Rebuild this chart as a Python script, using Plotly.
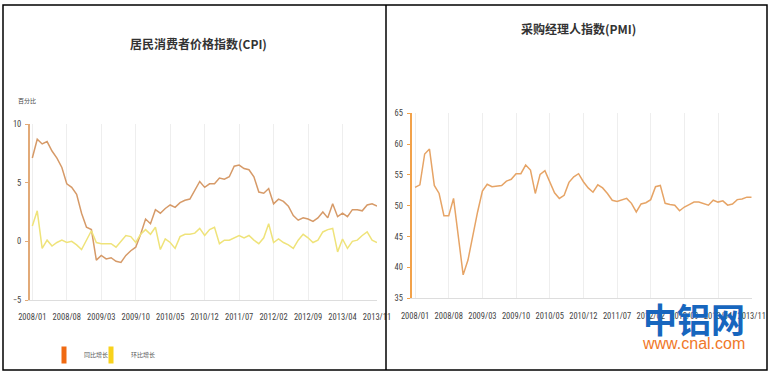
import plotly.graph_objects as go

# ---------------- data ----------------
months = [f"{y}/{m:02d}" for y in range(2008, 2014) for m in range(1, 13)][:71]
tick_labels = months[::7]

cpi_yoy = [7.1, 8.7, 8.3, 8.5, 7.7, 7.1, 6.3, 4.9, 4.6, 4.0, 2.4, 1.2,
           1.0, -1.6, -1.2, -1.5, -1.4, -1.7, -1.8, -1.2, -0.8, -0.5, 0.6, 1.9,
           1.5, 2.7, 2.4, 2.8, 3.1, 2.9, 3.3, 3.5, 3.6, 4.4, 5.1, 4.6,
           4.9, 4.9, 5.4, 5.3, 5.5, 6.4, 6.5, 6.2, 6.1, 5.5, 4.2, 4.1,
           4.5, 3.2, 3.6, 3.4, 3.0, 2.2, 1.8, 2.0, 1.9, 1.7, 2.0, 2.5,
           2.0, 3.2, 2.1, 2.4, 2.1, 2.7, 2.7, 2.6, 3.1, 3.2, 3.0]

cpi_mom = [1.3, 2.6, -0.6, 0.1, -0.4, -0.1, 0.1, -0.1, 0.0, -0.3, -0.7, 0.1,
           0.9, -0.1, -0.2, -0.2, -0.2, -0.5, 0.0, 0.5, 0.4, -0.1, 0.6, 1.0,
           0.6, 1.2, -0.7, 0.2, -0.1, -0.6, 0.4, 0.6, 0.6, 0.7, 1.1, 0.5,
           1.0, 1.2, -0.2, 0.1, 0.1, 0.3, 0.5, 0.3, 0.5, 0.1, -0.2, 0.3,
           1.5, -0.1, 0.2, -0.1, -0.3, -0.6, 0.1, 0.6, 0.3, -0.1, 0.1, 0.8,
           1.0, 1.1, -0.9, 0.2, -0.6, 0.0, 0.1, 0.5, 0.8, 0.1, -0.1]

pmi = [53.0, 53.4, 58.4, 59.2, 53.3, 52.0, 48.4, 48.4, 51.2, 44.6, 38.8, 41.2,
       45.3, 49.0, 52.4, 53.5, 53.1, 53.2, 53.3, 54.0, 54.3, 55.2, 55.2, 56.6,
       55.8, 52.0, 55.1, 55.7, 53.9, 52.1, 51.2, 51.7, 53.8, 54.7, 55.2, 53.9,
       52.9, 52.2, 53.4, 52.9, 52.0, 50.9, 50.7, 50.9, 51.2, 50.4, 49.0, 50.3,
       50.5, 51.0, 53.1, 53.3, 50.4, 50.2, 50.1, 49.2, 49.8, 50.2, 50.6, 50.6,
       50.4, 50.1, 50.9, 50.6, 50.8, 50.1, 50.3, 51.0, 51.1, 51.4, 51.4]

cpi_ticks = [-5, 0, 5, 10]
pmi_ticks = [35, 40, 45, 50, 55, 60, 65]

series_names = ["同比增长", "环比增长"]
title_cpi = "居民消费者价格指数(CPI)"
title_pmi = "采购经理人指数(PMI)"
unit_label = "百分比"

# ---------------- figure ----------------
W, H = 774, 374
px = lambda v: v / W
py = lambda v: 1 - v / H

C_YOY = "#D69A68"
C_MOM = "#EFE37A"
C_PMI = "#E6A466"
C_LEG_YOY = "#F06A12"
C_LEG_MOM = "#F8D21C"

fig = go.Figure()

fig.add_trace(go.Scatter(x=months, y=cpi_yoy, mode="lines", name=series_names[0],
                         line=dict(color=C_YOY, width=1.5), showlegend=False,
                         xaxis="x", yaxis="y"))
fig.add_trace(go.Scatter(x=months, y=cpi_mom, mode="lines", name=series_names[1],
                         line=dict(color=C_MOM, width=1.5), showlegend=False,
                         xaxis="x", yaxis="y"))
# legend entries (rectangular swatches), one legend box each
for nm, col, lg in zip(series_names, [C_LEG_YOY, C_LEG_MOM], ["legend", "legend2"]):
    fig.add_trace(go.Scatter(x=[None], y=[None], mode="markers", name=nm, legend=lg,
                             marker=dict(symbol="line-ns", size=12,
                                         line=dict(color=col, width=5)),
                             xaxis="x", yaxis="y"))
fig.add_trace(go.Scatter(x=months, y=pmi, mode="lines", name="PMI",
                         line=dict(color=C_PMI, width=1.5), showlegend=False,
                         xaxis="x2", yaxis="y2"))

tick_font = dict(family="Liberation Sans Narrow, Arial Narrow, Roboto Condensed, sans-serif",
                 size=8.5, color="#444")

xcommon = dict(type="category", tickmode="array", tickvals=tick_labels, ticktext=tick_labels,
               showgrid=True, gridcolor="#eeeeee", gridwidth=1,
               showline=True, linecolor="#dddddd", linewidth=1,
               ticks="", ticklabelstandoff=9, tickfont=tick_font, zeroline=False,
               fixedrange=True, automargin=False)

legend_common = dict(orientation="h", xanchor="left", yanchor="middle",
                     font=dict(family="Noto Sans CJK SC", size=6, color="#555"),
                     itemwidth=30, bgcolor="rgba(0,0,0,0)", borderwidth=0)

fig.update_layout(
    template="none",
    width=W, height=H, autosize=False,
    margin=dict(l=0, r=0, t=0, b=0, pad=0),
    paper_bgcolor="white", plot_bgcolor="white",
    font=dict(family="Noto Sans CJK SC", color="#444"),
    xaxis=dict(domain=[px(30), px(377)], range=[-0.47, 70], anchor="y", **xcommon),
    yaxis=dict(domain=[py(300), py(124)], range=[-5, 10], anchor="x",
               tickvals=cpi_ticks, showgrid=False, zeroline=False,
               showline=True, linecolor="#E2AA78", linewidth=2,
               ticks="outside", ticklen=3, tickcolor="#E2AA78", tickwidth=1,
               tickfont=tick_font, ticklabelstandoff=2, automargin=False, fixedrange=True),
    xaxis2=dict(domain=[px(411.7), px(751.7)], range=[-0.7, 70], anchor="y2", **xcommon),
    yaxis2=dict(domain=[py(298.3), py(113.3)], range=[35, 65], anchor="x2",
                tickvals=pmi_ticks, showgrid=False, zeroline=False,
                showline=True, linecolor="#F2A24A", linewidth=2,
                ticks="outside", ticklen=3, tickcolor="#F2A24A", tickwidth=1,
                tickfont=tick_font, ticklabelstandoff=2, automargin=False, fixedrange=True),
    legend=dict(x=px(44), y=py(355), **legend_common),
    legend2=dict(x=px(91), y=py(355), **legend_common),
    showlegend=True,
)

# titles and labels
fig.add_annotation(x=px(198), y=py(43), xref="paper", yref="paper", text="<b>" + title_cpi + "</b>",
                   xanchor="center", yanchor="middle", showarrow=False,
                   font=dict(family="Noto Sans CJK SC", size=12, color="#333"))
fig.add_annotation(x=px(578), y=py(29), xref="paper", yref="paper", text="<b>" + title_pmi + "</b>",
                   xanchor="center", yanchor="middle", showarrow=False,
                   font=dict(family="Noto Sans CJK SC", size=12, color="#333"))
fig.add_annotation(x=px(27), y=py(101), xref="paper", yref="paper", text=unit_label,
                   xanchor="center", yanchor="middle", showarrow=False,
                   font=dict(family="Noto Sans CJK SC", size=6, color="#444"))

# watermark
fig.add_annotation(x=px(694), y=py(318), xref="paper", yref="paper", text="<b>中铝网</b>",
                   xanchor="center", yanchor="middle", showarrow=False,
                   font=dict(family="Noto Sans CJK SC", size=34, color="#1766BE"))
fig.add_annotation(x=px(693), y=py(343), xref="paper", yref="paper", text="www.cnal.com",
                   xanchor="center", yanchor="middle", showarrow=False,
                   font=dict(family="Liberation Sans, Arial", size=16, color="#F07828"))

# panel borders
fig.add_shape(type="rect", xref="paper", yref="paper", x0=px(3), x1=px(767), y0=py(370), y1=py(5),
              line=dict(color="black", width=1.5))
fig.add_shape(type="line", xref="paper", yref="paper", x0=px(386), x1=px(386), y0=py(370), y1=py(5),
              line=dict(color="black", width=1.5))

fig.write_html("out.html", config={"displayModeBar": False, "responsive": False},
               post_script="document.body.style.margin='0';document.body.style.overflow='hidden';")
